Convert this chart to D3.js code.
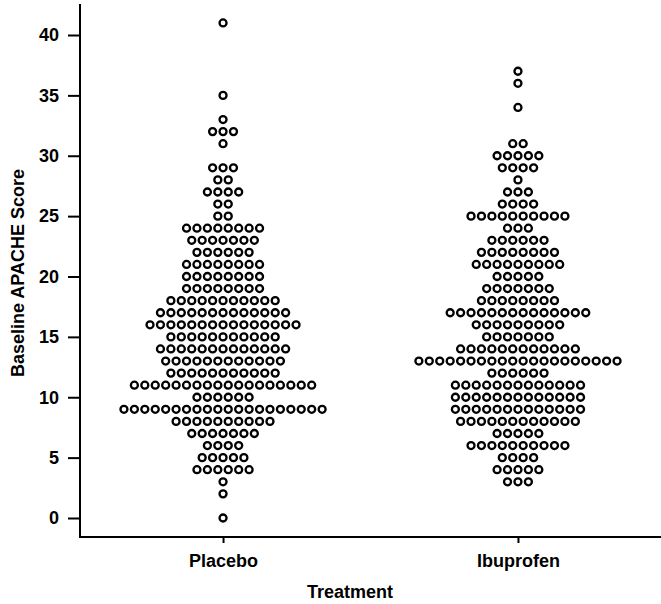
<!DOCTYPE html>
<html>
<head>
<meta charset="utf-8">
<script src="https://cdn.jsdelivr.net/npm/d3@7"></script>
<style>
  body { margin: 0; background: #fff; }
  text { font-family: "Liberation Sans", Arial, Helvetica, sans-serif; font-weight: bold; }
</style>
</head>
<body>
<div id="chart"></div>
<script>
// Treatment groups
var treatments = ["Placebo", "Ibuprofen"];

// Placebo: baseline score and number of patients at that score
var placeboScores = [41, 35, 33, 32, 31, 29, 28, 27, 26, 25, 24, 23, 22, 21, 20, 19, 18, 17, 16, 15, 14, 13, 12, 11, 10, 9, 8, 7, 6, 5, 4, 3, 2, 0];
var placeboCounts = [1, 1, 1, 3, 1, 3, 2, 4, 2, 2, 8, 7, 6, 8, 8, 8, 11, 13, 15, 11, 13, 12, 11, 18, 6, 20, 10, 7, 4, 5, 6, 1, 1, 1];

// Ibuprofen: baseline score and number of patients at that score
var ibuprofenScores = [37, 36, 34, 31, 30, 29, 28, 27, 26, 25, 24, 23, 22, 21, 20, 19, 18, 17, 16, 15, 14, 13, 12, 11, 10, 9, 8, 7, 6, 5, 4, 3];
var ibuprofenCounts = [1, 1, 1, 2, 5, 4, 1, 3, 4, 10, 3, 6, 8, 9, 5, 7, 8, 14, 9, 7, 12, 20, 6, 13, 13, 13, 12, 5, 10, 4, 5, 3];

// Y axis tick values
var yTicks = [0, 5, 10, 15, 20, 25, 30, 35, 40];

// SVG area dimensions
var svgWidth = 661;
var svgHeight = 604;

// Axis placement
var axisLeft = 80;
var axisBottom = 537;
var axisTop = 4;

// Dot size and horizontal spacing of the stacks
var radius = 3.5;
var dotStep = 10.43;

// Font size for all labels
var fontSize = 18;

var svg = d3
  .select("#chart")
  .append("svg")
  .attr("width", svgWidth)
  .attr("height", svgHeight);

// Scales
var xScale = d3.scalePoint().domain(treatments).range([axisLeft, svgWidth]).padding(0.485);
var yScale = d3.scaleLinear().domain([0, 40]).range([518, 35]);

// Build one record per patient, stacked sideways within a row
function buildDots(group, scores, counts) {
  var dots = [];
  scores.forEach((s, i) => {
    var n = counts[i];
    for (var k = 0; k < n; k++) {
      dots.push({ group: group, score: s, offset: (k - (n - 1) / 2) * dotStep });
    }
  });
  return dots;
}

var dotData = buildDots("Placebo", placeboScores, placeboCounts).concat(
  buildDots("Ibuprofen", ibuprofenScores, ibuprofenCounts)
);

// Y axis
var leftAxis = d3.axisLeft(yScale).tickValues(yTicks).tickSize(12).tickPadding(9);
var yAxisG = svg
  .append("g")
  .attr("transform", `translate(${axisLeft}, 0)`)
  .call(leftAxis);
yAxisG.select(".domain").remove();
yAxisG.selectAll("line").attr("stroke", "#000").attr("stroke-width", 2);
yAxisG.selectAll("text").attr("font-size", fontSize).attr("fill", "#000");

// X axis
var bottomAxis = d3.axisBottom(xScale).tickSize(6).tickPadding(11);
var xAxisG = svg
  .append("g")
  .attr("transform", `translate(0, ${axisBottom})`)
  .call(bottomAxis);
xAxisG.select(".domain").remove();
xAxisG.selectAll("line").attr("stroke", "#000").attr("stroke-width", 2);
xAxisG.selectAll("text").attr("font-size", fontSize).attr("fill", "#000");

// Axis spines
svg.append("line")
  .attr("x1", axisLeft).attr("x2", axisLeft)
  .attr("y1", axisTop).attr("y2", axisBottom + 1)
  .attr("stroke", "#000").attr("stroke-width", 2);
svg.append("line")
  .attr("x1", axisLeft - 1).attr("x2", svgWidth)
  .attr("y1", axisBottom).attr("y2", axisBottom)
  .attr("stroke", "#000").attr("stroke-width", 2);

// Draw the dots
svg
  .append("g")
  .selectAll("circle")
  .data(dotData)
  .enter()
  .append("circle")
  .attr("cx", (d) => xScale(d.group) + d.offset)
  .attr("cy", (d) => yScale(d.score))
  .attr("r", radius)
  .attr("fill", "#fff")
  .attr("stroke", "#000")
  .attr("stroke-width", 2.3);

// Axis titles
svg.append("text")
  .attr("x", 350)
  .attr("y", 598)
  .attr("text-anchor", "middle")
  .attr("font-size", fontSize)
  .text("Treatment");

svg.append("text")
  .attr("transform", `translate(24, 273) rotate(-90)`)
  .attr("text-anchor", "middle")
  .attr("font-size", fontSize)
  .text("Baseline APACHE Score");
</script>
</body>
</html>
